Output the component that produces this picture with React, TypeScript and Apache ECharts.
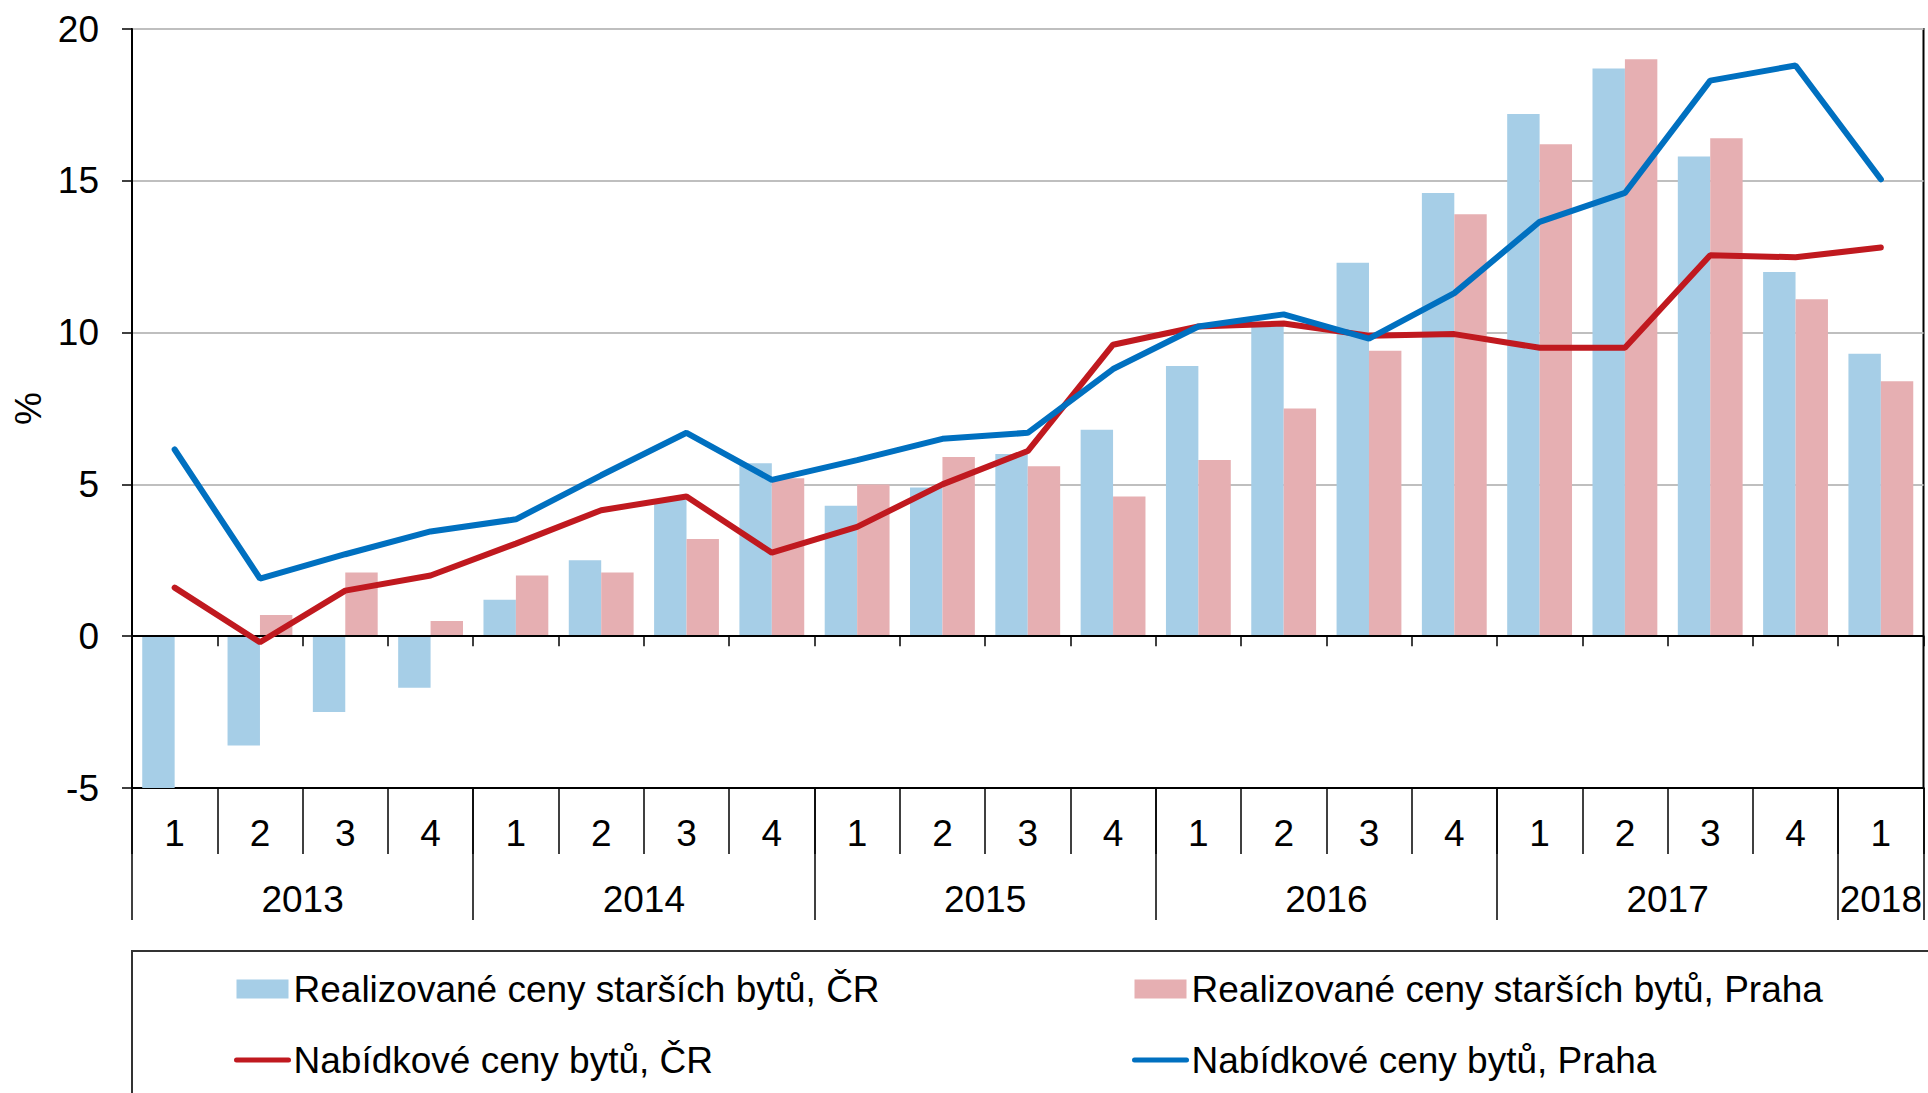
import React, { useEffect, useRef } from "react";
import * as echarts from "echarts";

// ---- data ----
const periods = [
  "2013-1", "2013-2", "2013-3", "2013-4",
  "2014-1", "2014-2", "2014-3", "2014-4",
  "2015-1", "2015-2", "2015-3", "2015-4",
  "2016-1", "2016-2", "2016-3", "2016-4",
  "2017-1", "2017-2", "2017-3", "2017-4",
  "2018-1",
];
const yearLabels = ["2013", "2014", "2015", "2016", "2017", "2018"];

const realizedCR = [-5.1, -3.6, -2.5, -1.7, 1.2, 2.5, 4.5, 5.7, 4.3, 4.9, 6.0, 6.8, 8.9, 10.3, 12.3, 14.6, 17.2, 18.7, 15.8, 12.0, 9.3];
const realizedPraha = [0, 0.7, 2.1, 0.5, 2.0, 2.1, 3.2, 5.2, 5.0, 5.9, 5.6, 4.6, 5.8, 7.5, 9.4, 13.9, 16.2, 19.0, 16.4, 11.1, 8.4];
const offerCR = [1.6, -0.2, 1.5, 2.0, 3.05, 4.15, 4.6, 2.75, 3.6, 5.0, 6.1, 9.6, 10.2, 10.3, 9.9, 9.95, 9.5, 9.5, 12.55, 12.48, 12.8];
const offerPraha = [6.15, 1.9, 2.7, 3.45, 3.85, 5.3, 6.7, 5.15, 5.8, 6.5, 6.7, 8.8, 10.2, 10.6, 9.8, 11.3, 13.65, 14.6, 18.3, 18.8, 15.05];

const seriesNames = [
  "Realizované ceny starších bytů, ČR",
  "Realizované ceny starších bytů, Praha",
  "Nabídkové ceny bytů, ČR",
  "Nabídkové ceny bytů, Praha",
];

const yTicks = { min: -5, max: 20, interval: 5 };

const FONT = "'Liberation Sans', Arial, sans-serif";
const FS = 37;

export default function App() {
  const ref = useRef<HTMLDivElement>(null);

  useEffect(() => {
    if (!ref.current) return;
    const chart = echarts.init(ref.current, undefined, { renderer: "svg" });

    // year axis (half-category slots, boundaryGap false)
    const nSlots = periods.length * 2 + 1;
    const slotKeys: string[] = [];
    for (let i = 0; i < nSlots; i++) slotKeys.push("s" + i);
    const slotLabel: Record<number, string> = {};
    const boundarySet = new Set<number>();
    yearLabels.forEach((y) => {
      const idxs = periods.map((p, i) => (p.startsWith(y + "-") ? i : -1)).filter((i) => i >= 0);
      const start = idxs[0];
      const count = idxs.length;
      slotLabel[2 * start + count] = y;
      boundarySet.add(2 * start);
    });
    boundarySet.add(nSlots - 1);

    const black = "#000";
    const legendText = { fontSize: FS, color: black, fontFamily: FONT, lineHeight: 40 };
    const legendCommon = {
      orient: "vertical",
      top: 969,
      padding: 0,
      itemWidth: 52,
      itemHeight: 19,
      itemGap: 31,
      textStyle: legendText,
    };
    const lineLegendItem = (name: string) => ({
      name,
      itemStyle: { opacity: 0 },
      lineStyle: { width: 5, cap: "round" },
    });

    chart.setOption({
      animation: false,
      textStyle: { fontFamily: FONT },
      grid: {
        left: 132,
        right: 4.5,
        top: 29,
        bottom: 305,
        containLabel: false,
        outerBoundsMode: "none",
        show: true,
        borderColor: black,
        borderWidth: 2,
        backgroundColor: "transparent",
      },
      legend: [
        {
          ...legendCommon,
          left: 234,
          data: [{ name: seriesNames[0], icon: "rect" }, lineLegendItem(seriesNames[2])],
        },
        {
          ...legendCommon,
          left: 1132,
          data: [{ name: seriesNames[1], icon: "rect" }, lineLegendItem(seriesNames[3])],
        },
      ],
      graphic: [
        {
          type: "rect",
          shape: { x: 132, y: 951, width: 1800, height: 200 },
          style: { fill: "none", stroke: "#333", lineWidth: 2 },
          silent: true,
          z: -1,
        },
      ],
      xAxis: [
        {
          type: "category",
          data: periods,
          position: "bottom",
          boundaryGap: true,
          axisLine: { onZero: false, lineStyle: { color: black, width: 2 } },
          axisTick: { show: true, interval: 0, alignWithLabel: false, length: 66, lineStyle: { color: black, width: 1.5 } },
          axisLabel: {
            interval: 0,
            margin: 27,
            fontSize: FS,
            color: black,
            fontFamily: FONT,
            formatter: (v: string) => v.split("-")[1],
          },
          splitLine: { show: false },
        },
        {
          type: "category",
          data: slotKeys,
          position: "bottom",
          boundaryGap: false,
          axisLine: { onZero: false, lineStyle: { color: black, width: 2 } },
          axisTick: {
            show: true,
            interval: (idx: number) => boundarySet.has(idx),
            length: 132,
            lineStyle: { color: black, width: 1.5 },
          },
          axisLabel: {
            interval: (idx: number) => slotLabel[idx] !== undefined,
            margin: 93,
            fontSize: FS,
            color: black,
            fontFamily: FONT,
            formatter: (_v: string, idx: number) => slotLabel[idx] ?? "",
          },
          splitLine: { show: false },
        },
        {
          type: "category",
          data: periods,
          position: "bottom",
          boundaryGap: true,
          z: 3,
          axisLine: { onZero: true, lineStyle: { color: black, width: 2 } },
          axisTick: { show: true, interval: 0, alignWithLabel: false, length: 10, lineStyle: { color: black, width: 1.5 } },
          axisLabel: { show: false },
          splitLine: { show: false },
        },
      ],
      yAxis: {
        type: "value",
        min: yTicks.min,
        max: yTicks.max,
        interval: yTicks.interval,
        name: "%",
        nameLocation: "middle",
        nameRotate: 90,
        nameGap: 84,
        nameTextStyle: { fontSize: FS, color: black, fontFamily: FONT },
        axisLine: { show: true, lineStyle: { color: black, width: 2 } },
        axisTick: { show: true, length: 10, lineStyle: { color: black, width: 1.5 } },
        axisLabel: { margin: 33, fontSize: FS, color: black, fontFamily: FONT },
        splitLine: { show: true, lineStyle: { color: "#BFBFBF", width: 2 } },
      },
      series: [
        {
          name: seriesNames[0],
          type: "bar",
          xAxisIndex: 0,
          data: realizedCR,
          barGap: "0%",
          barCategoryGap: "24%",
          itemStyle: { color: "#A6CEE7" },
          z: 2,
        },
        {
          name: seriesNames[1],
          type: "bar",
          xAxisIndex: 0,
          data: realizedPraha,
          barGap: "0%",
          barCategoryGap: "24%",
          itemStyle: { color: "#E6AFB2" },
          z: 2,
        },
        {
          name: seriesNames[2],
          type: "line",
          xAxisIndex: 0,
          data: offerCR,
          symbol: "none",
          showSymbol: false,
          lineStyle: { color: "#C0191F", width: 6, cap: "round" },
          itemStyle: { color: "#C0191F" },
          z: 4,
        },
        {
          name: seriesNames[3],
          type: "line",
          xAxisIndex: 0,
          data: offerPraha,
          symbol: "none",
          showSymbol: false,
          lineStyle: { color: "#0070C0", width: 6, cap: "round" },
          itemStyle: { color: "#0070C0" },
          z: 4,
        },
      ],
    });

    return () => chart.dispose();
  }, []);

  return (
    <div
      ref={ref}
      style={{ position: "fixed", left: 0, top: 0, width: 1928, height: 1093, background: "#fff" }}
    />
  );
}
